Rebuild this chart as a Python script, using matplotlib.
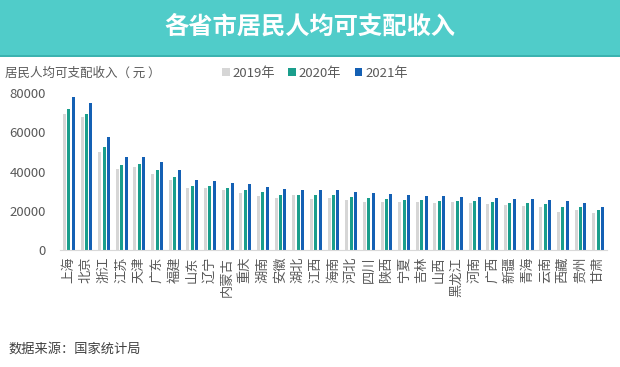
import numpy as np
import matplotlib
matplotlib.use("Agg")
import matplotlib.pyplot as plt
from matplotlib.patches import Rectangle

plt.rcParams["font.family"] = ["Noto Sans CJK SC", "DejaVu Sans"]

provinces = ["上海", "北京", "浙江", "江苏", "天津", "广东", "福建", "山东", "辽宁", "内蒙古",
             "重庆", "湖南", "安徽", "湖北", "江西", "海南", "河北", "四川", "陕西", "宁夏",
             "吉林", "山西", "黑龙江", "河南", "广西", "新疆", "青海", "云南", "西藏", "贵州", "甘肃"]
inc_2019 = [69442, 67756, 49899, 41400, 42404, 39014, 35616, 31597, 31820, 30555,
            28920, 27680, 26415, 28319, 26262, 26679, 25665, 24703, 24666, 24412,
            24563, 23828, 24254, 23903, 23328, 23103, 22618, 22082, 19501, 20397, 19139]
inc_2020 = [72232, 69434, 52397, 43390, 43854, 41029, 37202, 32886, 32738, 31497,
            30824, 29380, 28103, 27881, 28017, 27904, 27136, 26522, 26226, 25735,
            25751, 25214, 24902, 24810, 24562, 23845, 24037, 23295, 21744, 21795, 20335]
inc_2021 = [78027, 75002, 57541, 47498, 47449, 44993, 40659, 35705, 35112, 34108,
            33803, 31993, 30904, 30829, 30610, 30457, 29383, 29080, 28568, 27905,
            27770, 27426, 27159, 26811, 26727, 26075, 25920, 25666, 24950, 23996, 22066]
years = ["2019年", "2020年", "2021年"]
colors = ["#D6D6D6", "#1A9E8C", "#1460B4"]

fig = plt.figure(figsize=(6.2, 3.67), dpi=100)

# title banner
fig.patches.append(Rectangle((0, 1 - 55 / 367), 1, 55 / 367, transform=fig.transFigure,
                             facecolor="#50CCC9", edgecolor="none", zorder=0))
fig.patches.append(Rectangle((0, 1 - 57 / 367), 1, 2 / 367, transform=fig.transFigure,
                             facecolor="#3BB3B0", edgecolor="none", zorder=0))
fig.text(0.5, 1 - 27 / 367, "各省市居民人均可支配收入", ha="center", va="center",
         color="white", fontsize=17.5, fontweight="bold")

ax = fig.add_axes([60 / 620, 1 - 250 / 367, 547 / 620, (250 - 93.3) / 367])
x = np.arange(len(provinces))
w = 0.17
for i, (vals, lab, c) in enumerate(zip([inc_2019, inc_2020, inc_2021], years, colors)):
    ax.bar(x + (i - 1) * 0.25, vals, width=w, color=c, label=lab)

ax.set_xlim(-0.5, len(provinces) - 0.5)
ax.set_ylim(0, 80000)
ax.set_yticks([0, 20000, 40000, 60000, 80000])
ax.set_xticks(x)
ax.set_xticklabels(provinces, rotation=90, fontsize=9.5, color="#595959")
ax.tick_params(axis="y", labelsize=9.5, colors="#595959", length=0, pad=10)
ax.tick_params(axis="x", length=0, pad=5)
for s in ["top", "right", "left"]:
    ax.spines[s].set_visible(False)
ax.spines["bottom"].set_color("#D9D9D9")

fig.text(5 / 620, 1 - 73 / 367, "居民人均可支配收入（ 元 ）", ha="left", va="center",
         fontsize=9, color="#595959")
ax.legend(loc="center left", bbox_to_anchor=(210 / 620, 1 - 73 / 367), bbox_transform=fig.transFigure,
          ncol=3, frameon=False, fontsize=9.5, handlelength=0.6, handleheight=0.6,
          handletextpad=0.2, columnspacing=1.0, labelcolor="#595959")

fig.text(8 / 620, 1 - 349 / 367, "数据来源：国家统计局", ha="left", va="center",
         fontsize=9.5, color="#404040")

fig.savefig("out.png", dpi=100)
